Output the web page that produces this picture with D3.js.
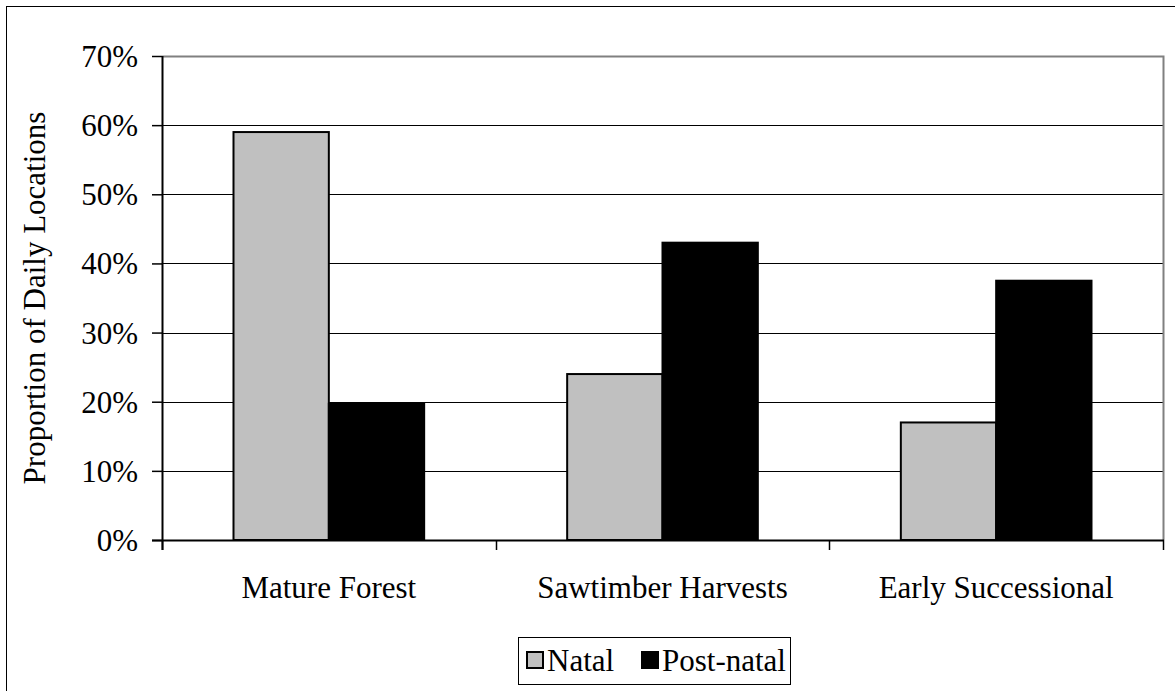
<!DOCTYPE html>
<html>
<head>
<meta charset="utf-8">
<script src="https://cdn.jsdelivr.net/npm/d3@7"></script>
<style>
  body { margin: 0; background: #fff; }
  text { font-family: "Liberation Serif", "Times New Roman", serif; fill: #000; }
</style>
</head>
<body>
<svg width="1175" height="691"></svg>
<script>
// data
var categories = ["Mature Forest", "Sawtimber Harvests", "Early Successional"];
var seriesNames = ["Natal", "Post-natal"];
var natal = [0.59, 0.24, 0.17];
var postNatal = [0.197, 0.43, 0.375];
var yTicks = [0, 0.1, 0.2, 0.3, 0.4, 0.5, 0.6, 0.7];
var seriesColors = ["#c0c0c0", "#000000"];

var svg = d3.select("svg"),
  width = +svg.attr("width"),
  height = +svg.attr("height");

var plotLeft = 162, plotRight = 1163, plotTop = 56, plotBottom = 540;

// outer chart border (runs off the right/bottom edge)
svg.append("rect")
  .attr("x", 6.5).attr("y", 6.5)
  .attr("width", width + 20).attr("height", height + 20)
  .attr("fill", "none").attr("stroke", "#000").attr("stroke-width", 1);

var x = d3.scaleBand().domain(categories).range([plotLeft, plotRight]);
var x1 = d3.scaleBand().domain(seriesNames).range([0, x.bandwidth()])
  .paddingInner(0).paddingOuter(0.75);
var y = d3.scaleLinear().domain([0, 0.7]).range([plotBottom, plotTop]);

// gridlines
svg.append("g")
  .selectAll("line")
  .data(yTicks.filter(function (d) { return d > 0 && d < 0.7; }))
  .enter().append("line")
  .attr("x1", plotLeft).attr("x2", plotRight)
  .attr("y1", function (d) { return Math.round(y(d)) + 0.5; })
  .attr("y2", function (d) { return Math.round(y(d)) + 0.5; })
  .attr("stroke", "#000").attr("stroke-width", 1);

// plot area border (gray) top + right
svg.append("path")
  .attr("d", "M" + plotLeft + "," + (plotTop + 0.5) + "H" + (plotRight + 0.5) + "V" + plotBottom)
  .attr("fill", "none").attr("stroke", "#808080").attr("stroke-width", 2);

var rows = categories.map(function (c, i) {
  return {cat: c, values: [natal[i], postNatal[i]]};
});

var group = svg.append("g").selectAll("g")
  .data(rows)
  .enter().append("g")
  .attr("transform", function (d) { return "translate(" + x(d.cat) + ",0)"; });

group.selectAll("rect")
  .data(function (d) {
    return d.values.map(function (v, j) { return {name: seriesNames[j], value: v, j: j}; });
  })
  .enter().append("rect")
  .attr("x", function (d) { return x1(d.name); })
  .attr("y", function (d) { return y(d.value); })
  .attr("width", x1.bandwidth())
  .attr("height", function (d) { return plotBottom - y(d.value); })
  .attr("fill", function (d) { return seriesColors[d.j]; })
  .attr("stroke", "#000")
  .attr("stroke-width", 2);

// y axis
var yAxis = d3.axisLeft(y).tickValues(yTicks)
  .tickFormat(d3.format(".0%")).tickSize(10).tickPadding(14);
var ya = svg.append("g").attr("transform", "translate(" + plotLeft + ",0)").call(yAxis);
ya.select(".domain").remove();
ya.selectAll(".tick line").attr("stroke", "#000").attr("stroke-width", 1.5);
ya.selectAll("text").style("font-size", "31px").attr("dy", "0.34em");
svg.append("line")
  .attr("x1", plotLeft + 0.5).attr("x2", plotLeft + 0.5)
  .attr("y1", plotTop).attr("y2", plotBottom + 10)
  .attr("stroke", "#000").attr("stroke-width", 2);

// x axis line + boundary ticks
svg.append("line")
  .attr("x1", plotLeft - 10).attr("x2", plotRight + 1)
  .attr("y1", plotBottom + 0.5).attr("y2", plotBottom + 0.5)
  .attr("stroke", "#000").attr("stroke-width", 2);

var bounds = categories.map(function (c) { return x(c); }).concat([plotRight]);
svg.append("g").selectAll("line")
  .data(bounds)
  .enter().append("line")
  .attr("x1", function (d) { return Math.round(d) + 0.5; })
  .attr("x2", function (d) { return Math.round(d) + 0.5; })
  .attr("y1", plotBottom).attr("y2", plotBottom + 10)
  .attr("stroke", "#000").attr("stroke-width", 1.5);

svg.append("g").selectAll("text")
  .data(categories)
  .enter().append("text")
  .attr("x", function (d) { return x(d) + x.bandwidth() / 2; })
  .attr("y", 598)
  .attr("text-anchor", "middle")
  .style("font-size", "31px")
  .text(function (d) { return d; });

// y title
svg.append("text")
  .attr("transform", "translate(45," + ((plotTop + plotBottom) / 2) + ") rotate(-90)")
  .attr("text-anchor", "middle")
  .style("font-size", "31px")
  .text("Proportion of Daily Locations");

// legend
var legend = svg.append("g");
legend.append("rect")
  .attr("x", 518.5).attr("y", 637.5).attr("width", 272).attr("height", 47)
  .attr("fill", "#fff").attr("stroke", "#000").attr("stroke-width", 1);

var legendX = [527, 642];
var li = legend.selectAll("g.item")
  .data(seriesNames)
  .enter().append("g").attr("class", "item")
  .attr("transform", function (d, i) { return "translate(" + legendX[i] + ",0)"; });
li.append("rect")
  .attr("x", 0).attr("y", 652).attr("width", 16).attr("height", 16)
  .attr("fill", function (d, i) { return seriesColors[i]; })
  .attr("stroke", "#000").attr("stroke-width", 2);
li.append("text")
  .attr("x", 20).attr("y", 671)
  .style("font-size", "31px")
  .text(function (d) { return d; });
</script>
</body>
</html>
